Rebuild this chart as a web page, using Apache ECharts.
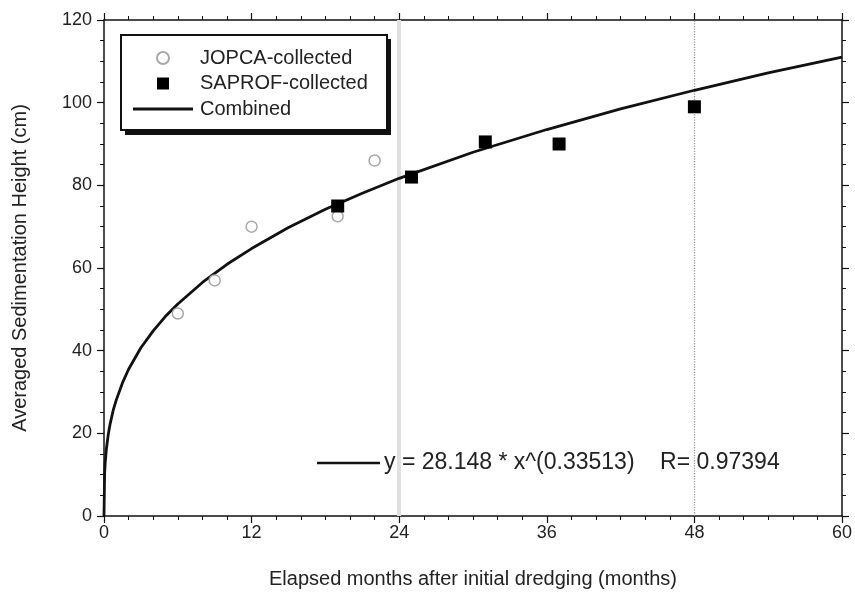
<!DOCTYPE html>
<html>
<head>
<meta charset="utf-8">
<script src="https://cdn.jsdelivr.net/npm/echarts@6/dist/echarts.min.js"></script>
<style>
  html, body { margin: 0; padding: 0; background: #fff; }
  #chart { width: 855px; height: 594px; }
</style>
</head>
<body>
<div id="chart"></div>
<script>
// Data
const jopcaMonths = [6, 9, 12, 19, 22];
const jopcaHeight = [49, 57, 70, 72.5, 86];

const saprofMonths = [19, 25, 31, 37, 48];
const saprofHeight = [75, 82, 90.5, 90, 99];

// fitted curve (Combined), sampled along the drawn line
const fitMonths = [0, 0.05, 0.1, 0.2, 0.35, 0.5, 0.75, 1, 1.5, 2, 3, 4, 5, 6, 8, 10, 12, 15, 18, 21, 24, 30, 36, 42, 48, 54, 60];
const fitHeight = [0, 10.3, 13.0, 16.4, 19.8, 22.3, 25.6, 28.1, 32.2, 35.5, 40.7, 44.8, 48.3, 51.3, 56.5, 60.9, 64.7, 69.8, 74.2, 78.1, 81.7, 88.0, 93.5, 98.5, 103.0, 107.2, 111.0];

const xTicks = { min: 0, max: 60, interval: 12 };
const yTicks = { min: 0, max: 120, interval: 20 };

const FONT = 'Liberation Sans, Arial, sans-serif';
const TXT = '#222';

const zip = (xs, ys) => xs.map((x, i) => [x, ys[i]]);

var myChart = echarts.init(document.getElementById('chart'));

// shared frame axis style (box with outward ticks on every side)
function frameAxis(extra) {
  return Object.assign({
    type: 'value',
    axisLine: { show: true, onZero: false, lineStyle: { color: '#111', width: 1.5 } },
    axisTick: { show: true, inside: false, length: 7, lineStyle: { color: '#111', width: 1.2 } },
    splitLine: { show: false },
    axisLabel: { show: false }
  }, extra);
}

const xMinor = { show: true, splitNumber: 6, length: 4, lineStyle: { color: '#111', width: 1 } };
const yMinor = { show: true, splitNumber: 4, length: 4, lineStyle: { color: '#111', width: 1 } };

myChart.setOption({
  backgroundColor: '#fff',
  animation: false,
  grid: { left: 104, right: 10, top: 20, bottom: 77 },
  legend: {
    orient: 'vertical',
    left: 133,
    top: 48,
    padding: 0,
    itemGap: 5.5,
    itemWidth: 60,
    itemHeight: 12,
    symbolKeepAspect: true,
    z: 6,
    textStyle: { fontFamily: FONT, fontSize: 20, lineHeight: 20, color: TXT, padding: [0, 0, 0, 2] },
    data: [
      { name: 'JOPCA-collected', icon: 'circle' },
      { name: 'SAPROF-collected', icon: 'path://M0,0 L10,0 L10,10 L0,10 Z' },
      { name: 'Combined', icon: 'path://M0,0 L60,0 L60,3 L0,3 Z', itemStyle: { color: '#111' } }
    ]
  },
  xAxis: [
    frameAxis({
      position: 'bottom',
      min: xTicks.min, max: xTicks.max, interval: xTicks.interval,
      minorTick: xMinor,
      axisLabel: { show: true, margin: 8, fontFamily: FONT, fontSize: 18, color: TXT },
      name: 'Elapsed months after initial dredging (months)',
      nameLocation: 'middle',
      nameGap: 53,
      nameTextStyle: { fontFamily: FONT, fontSize: 20, color: TXT }
    }),
    frameAxis({
      position: 'top',
      min: xTicks.min, max: xTicks.max, interval: xTicks.interval,
      minorTick: xMinor
    })
  ],
  yAxis: [
    frameAxis({
      position: 'left',
      min: yTicks.min, max: yTicks.max, interval: yTicks.interval,
      minorTick: yMinor,
      axisLabel: { show: true, margin: 12, fontFamily: FONT, fontSize: 18, color: TXT },
      name: 'Averaged Sedimentation Height (cm)',
      nameLocation: 'middle',
      nameGap: 74,
      nameRotate: 90,
      nameTextStyle: { fontFamily: FONT, fontSize: 20, color: TXT }
    }),
    frameAxis({
      position: 'right',
      min: yTicks.min, max: yTicks.max, interval: yTicks.interval,
      minorTick: yMinor
    })
  ],
  series: [
    {
      name: 'Combined',
      type: 'line',
      data: zip(fitMonths, fitHeight),
      showSymbol: false,
      symbol: 'none',
      smooth: false,
      z: 3,
      lineStyle: { color: '#111', width: 2.8 },
      itemStyle: { color: '#111' },
      markLine: {
        silent: true,
        symbol: 'none',
        label: { show: false },
        z: 1,
        data: [
          { xAxis: 24, lineStyle: { color: '#e0e0e0', width: 4, type: 'solid' } },
          { xAxis: 48, lineStyle: { color: '#9a9a9a', width: 1.3, type: 'dotted' } }
        ]
      }
    },
    {
      name: 'JOPCA-collected',
      type: 'scatter',
      data: zip(jopcaMonths, jopcaHeight),
      symbol: 'circle',
      symbolSize: 11,
      z: 4,
      itemStyle: { color: '#fff', borderColor: '#a8a8a8', borderWidth: 1.5, opacity: 1 }
    },
    {
      name: 'SAPROF-collected',
      type: 'scatter',
      data: zip(saprofMonths, saprofHeight),
      symbol: 'rect',
      symbolSize: 13,
      z: 5,
      itemStyle: { color: '#000', opacity: 1 }
    }
  ],
  graphic: [
    // legend frame with its drop shadow
    {
      type: 'rect',
      z: 4,
      shape: { x: 125, y: 39, width: 266, height: 96 },
      style: { fill: '#111' }
    },
    {
      type: 'rect',
      z: 5,
      shape: { x: 121, y: 35, width: 266, height: 95 },
      style: { fill: '#fff', stroke: '#111', lineWidth: 2 }
    },
    // fit equation note
    {
      type: 'line',
      z: 5,
      shape: { x1: 317, y1: 463, x2: 380, y2: 463 },
      style: { stroke: '#111', lineWidth: 2.6 }
    },
    {
      type: 'text',
      z: 5,
      x: 384,
      y: 463,
      style: {
        text: 'y = 28.148 * x^(0.33513)    R= 0.97394',
        fontFamily: FONT,
        fontSize: 23,
        fill: TXT,
        verticalAlign: 'middle'
      }
    }
  ]
});
</script>
</body>
</html>
